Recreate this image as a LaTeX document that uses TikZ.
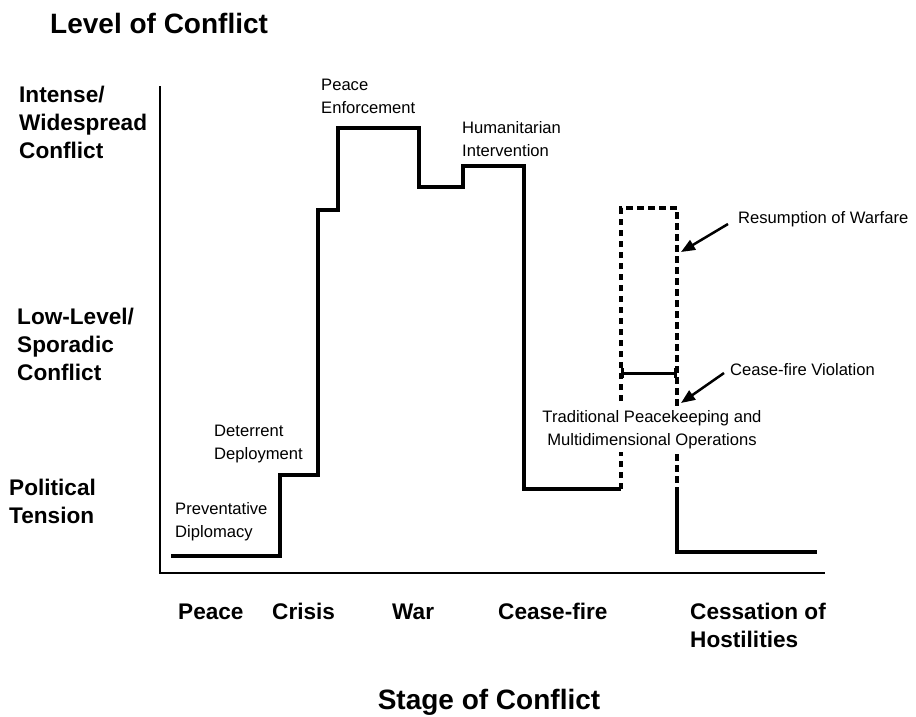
\documentclass[tikz,border=0pt]{standalone}
\usepackage{fontspec}
\setmainfont{Liberation Sans}
\usetikzlibrary{arrows.meta}
\begin{document}
\begin{tikzpicture}[x=1pt,y=-1pt,
  axis/.style={line width=2.8pt},
  stepline/.style={line width=3.5pt, line join=miter},
  dashline/.style={line width=3.6pt, dash pattern=on 6.5pt off 4.5pt},
  lbl/.style={font=\fontsize{16.6}{23}\selectfont, align=left, inner sep=0pt, anchor=base west},
  blbl/.style={font=\bfseries\fontsize{22.6}{28}\selectfont, align=left, inner sep=0pt, anchor=base west},
  ttl/.style={font=\bfseries\fontsize{28}{32}\selectfont, inner sep=0pt, anchor=base west},
  pointer/.style={line width=2.5pt, -{Triangle[length=14pt,width=11pt]}},
]
\useasboundingbox (0,0) rectangle (916,716);
% titles
\node[ttl] (ytitle) at (50,33) {Level of Conflict};
\node[ttl, anchor=base] (xtitle) at (489,709) {Stage of Conflict};
% y-axis levels (anchor = baseline of the last line)
\node[blbl] (lv3) at (19,158) {Intense/\\Widespread\\Conflict};
\node[blbl] (lv2) at (17,380) {Low-Level/\\Sporadic\\Conflict};
\node[blbl] (lv1) at (9,523) {Political\\Tension};
% x-axis stages
\node[blbl] (s1) at (178,619) {Peace};
\node[blbl] (s2) at (272,619) {Crisis};
\node[blbl] (s3) at (392,619) {War};
\node[blbl] (s4) at (498,619) {Cease-fire};
\node[blbl] (s5) at (690,647) {Cessation of\\Hostilities};
% axes
\draw[axis] (160,86) -- (160,573) -- (825,573);
% level of conflict line
\draw[stepline] (171,556) -- (280,556) -- (280,475) -- (318,475) -- (318,210)
  -- (338,210) -- (338,128) -- (419,128) -- (419,187) -- (463,187) -- (463,166)
  -- (524,166) -- (524,489) -- (621,489);
\draw[stepline] (677,487) -- (677,552) -- (817,552);
\draw[dashline] (621,489) -- (621,208) -- (677,208) -- (677,487);
\draw[line width=3pt, {Bar[width=10pt]}-{Bar[width=10pt]}] (621,373) -- (677,373);
% activity labels (anchor = baseline of the last line)
\node[lbl] (pd) at (175,537) {Preventative\\Diplomacy};
\node[lbl] (dd) at (214,459) {Deterrent\\Deployment};
\node[lbl] (pe) at (321,113) {Peace\\Enforcement};
\node[lbl] (hi) at (462,156) {Humanitarian\\Intervention};
\node[lbl, align=center, anchor=base, fill=white, inner sep=4pt] (tp) at (652,445) {Traditional Peacekeeping and\\Multidimensional Operations};
\node[lbl] (rw) at (738,223) {Resumption of Warfare};
\node[lbl] (cv) at (730,375) {Cease-fire Violation};
% pointers
\coordinate (rwtail) at (728,224);
\coordinate (rwtip) at (681,252);
\coordinate (cvtail) at (724,373);
\coordinate (cvtip) at (681,403);
\draw[pointer] (rwtail) -- (rwtip);
\draw[pointer] (cvtail) -- (cvtip);
\end{tikzpicture}
\end{document}
